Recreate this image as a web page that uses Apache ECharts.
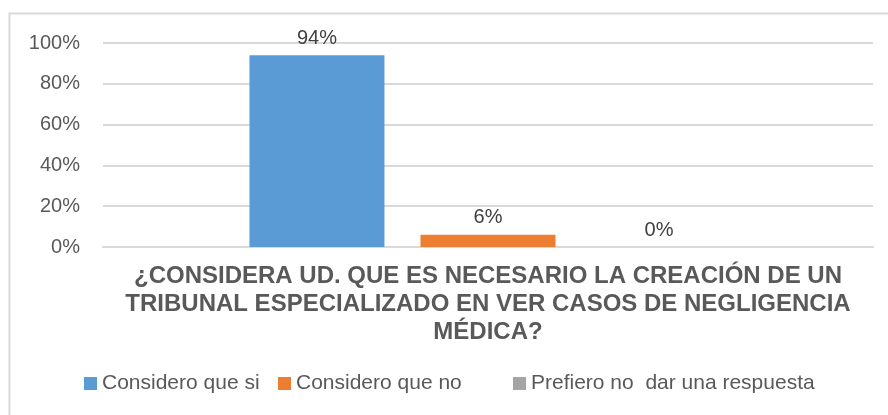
<!DOCTYPE html>
<html>
<head>
<meta charset="utf-8">
<script src="https://cdn.jsdelivr.net/npm/echarts@6/dist/echarts.min.js"></script>
<style>
  html, body { margin: 0; padding: 0; background: #fff; }
  #chart { width: 888px; height: 415px; }
</style>
</head>
<body>
<div id="chart"></div>
<script>
// datos
const categories = ['¿CONSIDERA UD. QUE ES NECESARIO LA CREACIÓN DE UN\nTRIBUNAL ESPECIALIZADO EN VER CASOS DE NEGLIGENCIA\nMÉDICA?'];
const seriesNames = ['Considero que si', 'Considero que no', 'Prefiero no  dar una respuesta'];
const siValues = [94];
const noValues = [6];
const prefieroValues = [0];
const yTicks = [0, 20, 40, 60, 80, 100];

const colors = ['#5b9bd5', '#ed7d31', '#a5a5a5'];
const textColor = '#595959';
const font = 'Liberation Sans, Arial, sans-serif';

const myChart = echarts.init(document.getElementById('chart'));

function barSeries(name, data, color) {
  return {
    name: name,
    type: 'bar',
    data: data,
    barWidth: 135,
    barGap: '26.7%',
    itemStyle: { color: color },
    label: {
      show: true,
      position: 'top',
      distance: 7,
      formatter: p => p.value + '%',
      color: '#404040',
      fontSize: 20,
      fontFamily: font
    }
  };
}

myChart.setOption({
  backgroundColor: '#fff',
  animation: false,
  graphic: [{
    type: 'rect',
    shape: { x: 9.5, y: 13.5, width: 900, height: 420 },
    style: { fill: 'none', stroke: '#d9d9d9', lineWidth: 2 },
    silent: true
  }],
  grid: { left: 103, right: 15, top: 43, bottom: 168, containLabel: false },
  legend: [0, 1, 2].map((i) => ({
    data: [seriesNames[i]],
    left: [84, 278, 513][i],
    top: 373,
    padding: 0,
    itemWidth: 13,
    itemHeight: 13,
    itemGap: 0,
    icon: 'rect',
    textStyle: { color: textColor, fontSize: 21, fontFamily: font }
  })),
  xAxis: {
    type: 'category',
    data: categories,
    axisLine: { show: true, lineStyle: { color: '#d9d9d9', width: 2 } },
    axisTick: { show: false },
    axisLabel: {
      margin: 15,
      color: textColor,
      fontWeight: 'bold',
      fontSize: 24,
      lineHeight: 28,
      fontFamily: font
    }
  },
  yAxis: {
    type: 'value',
    min: 0,
    max: 100,
    interval: 20,
    axisLine: { show: false },
    axisTick: { show: false },
    splitLine: { lineStyle: { color: '#d9d9d9', width: 2 } },
    axisLabel: {
      margin: 23,
      color: textColor,
      fontSize: 20,
      fontFamily: font,
      formatter: v => yTicks.includes(v) ? v + '%' : ''
    }
  },
  series: [
    barSeries(seriesNames[0], siValues, colors[0]),
    barSeries(seriesNames[1], noValues, colors[1]),
    barSeries(seriesNames[2], prefieroValues, colors[2])
  ]
});
</script>
</body>
</html>
